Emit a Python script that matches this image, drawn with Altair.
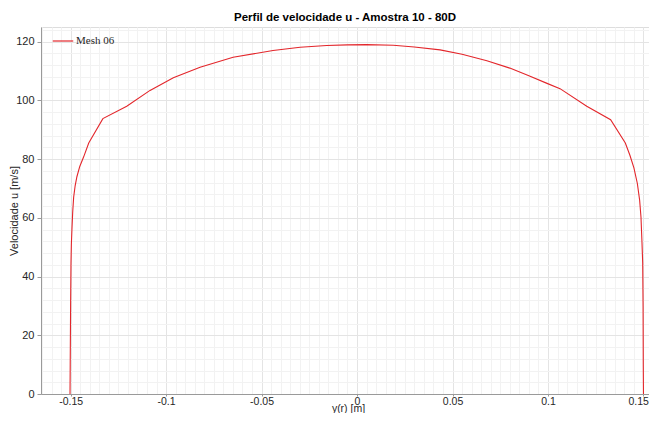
import altair as alt
import pandas as pd

# Velocity profile
x_vals = [-0.1503, -0.1502, -0.1500, -0.1498, -0.1496, -0.1493, -0.1489, -0.1484,
          -0.1476, -0.1467, -0.1452, -0.1432, -0.1405, -0.1331, -0.1206, -0.1084,
          -0.0962, -0.0822, -0.0649, -0.0440, -0.0298, -0.0159, -0.0050,
          0.0050, 0.0190, 0.0300, 0.0435, 0.0550, 0.0680, 0.0800, 0.0900, 0.0995,
          0.1063, 0.1203, 0.1328, 0.1405, 0.1429, 0.1450, 0.1468, 0.1480, 0.1487,
          0.1492, 0.1496, 0.1498, 0.1499, 0.1500]
u_vals = [0, 10, 30, 44.5, 51, 56, 62, 67,
          71, 74, 77.5, 80.7, 85.5, 93.8, 98, 103.4,
          107.7, 111.3, 114.7, 117, 118.1, 118.7, 118.9,
          119, 118.8, 118.2, 117.2, 115.7, 113.5, 111, 108.4, 105.8,
          104, 98, 93.4, 85.5, 81.3, 77, 71.7, 66, 60.3,
          52, 44.6, 30, 10, 0]
series_name = "Mesh 06"

x_ticks = [-0.15, -0.1, -0.05, 0, 0.05, 0.1, 0.15]
y_ticks = [0, 20, 40, 60, 80, 100, 120]
x_minor = [round(-0.165 + 0.005 * i, 3) for i in range(0, 65)]
x_minor = [v for v in x_minor if abs(v / 0.05 - round(v / 0.05)) > 1e-6]
y_minor = [v for v in range(0, 126, 4) if v % 20 != 0]

df = pd.DataFrame({"x": x_vals, "u": u_vals, "s": series_name, "order": range(len(x_vals))})

FONT = "Liberation Sans"
W, H = 608, 367
x_scale = alt.Scale(domain=[-0.1655, 0.1529], nice=False, zero=False)
y_scale = alt.Scale(domain=[0, 125], nice=False)

main = alt.Chart(df).mark_line(color="#e3262b", strokeWidth=1.1, clip=True).encode(
    x=alt.X("x:Q", scale=x_scale,
            axis=alt.Axis(values=x_ticks, title="y(r) [m]",
                          labelExpr="'' + datum.value",
                          labelAlign={"condition": {"test": "datum.value > 0.14", "value": "right"},
                                      "value": "center"},
                          labelOffset={"condition": {"test": "datum.value > 0.14", "value": 5},
                                       "value": 0},
                          labelFlush=False,
                          grid=True, gridColor="#e4e4e4", gridWidth=1,
                          domainColor="#9a9a9a", tickColor="#9a9a9a", tickSize=2,
                          labelFont=FONT, labelFontSize=10.5, labelColor="#262626",
                          labelPadding=0, titleFont=FONT, titleFontSize=10.5,
                          titleFontWeight="normal", titleColor="#262626",
                          titleX=307, titleY=17,
                          titleBaseline="alphabetic", titleAlign="center")),
    y=alt.Y("u:Q", scale=y_scale,
            axis=alt.Axis(values=y_ticks, title="Velocidade u [m/s]",
                          grid=True, gridColor="#e4e4e4", gridWidth=1,
                          domainColor="#9a9a9a", tickColor="#9a9a9a", tickSize=4,
                          labelFont=FONT, labelFontSize=11, labelColor="#262626",
                          labelPadding=3, titleFont=FONT, titleFontSize=11,
                          titleFontWeight="normal", titleColor="#262626",
                          titleX=-27, titleY=H / 2, titleAngle=270,
                          titleBaseline="middle", titleAlign="center")),
    order="order:Q",
    color=alt.Color("s:N", scale=alt.Scale(range=["#e3262b"]),
                    legend=alt.Legend(title=None, orient="none", legendX=11, legendY=3,
                                      symbolType="stroke", symbolSize=420,
                                      symbolStrokeWidth=1.2, labelFont="Liberation Serif",
                                      labelFontSize=11, labelColor="#262626",
                                      labelOffset=2, padding=0)),
)

minor = alt.Chart(df).mark_line(opacity=0).encode(
    x=alt.X("x:Q", scale=x_scale,
            axis=alt.Axis(orient="top", values=x_minor, grid=True, gridColor="#f2f2f2",
                          labels=False, ticks=False, domain=False, title=None)),
    y=alt.Y("u:Q", scale=y_scale,
            axis=alt.Axis(orient="right", values=y_minor, grid=True, gridColor="#f2f2f2",
                          labels=False, ticks=False, domain=False, title=None)),
)

chart = alt.layer(minor, main).resolve_axis(x="independent", y="independent").properties(
    width=W, height=H,
    autosize="none",
    padding={"left": 33, "top": 19, "right": 0, "bottom": 19},
    title=alt.Title("Perfil de velocidade u - Amostra 10 - 80D", font=FONT, fontSize=11.5,
                    fontWeight="bold", color="#000000", offset=4),
).configure_view(stroke=None).configure(background="white")

chart.save("out.html", embed_options={"renderer": "svg", "actions": False})
